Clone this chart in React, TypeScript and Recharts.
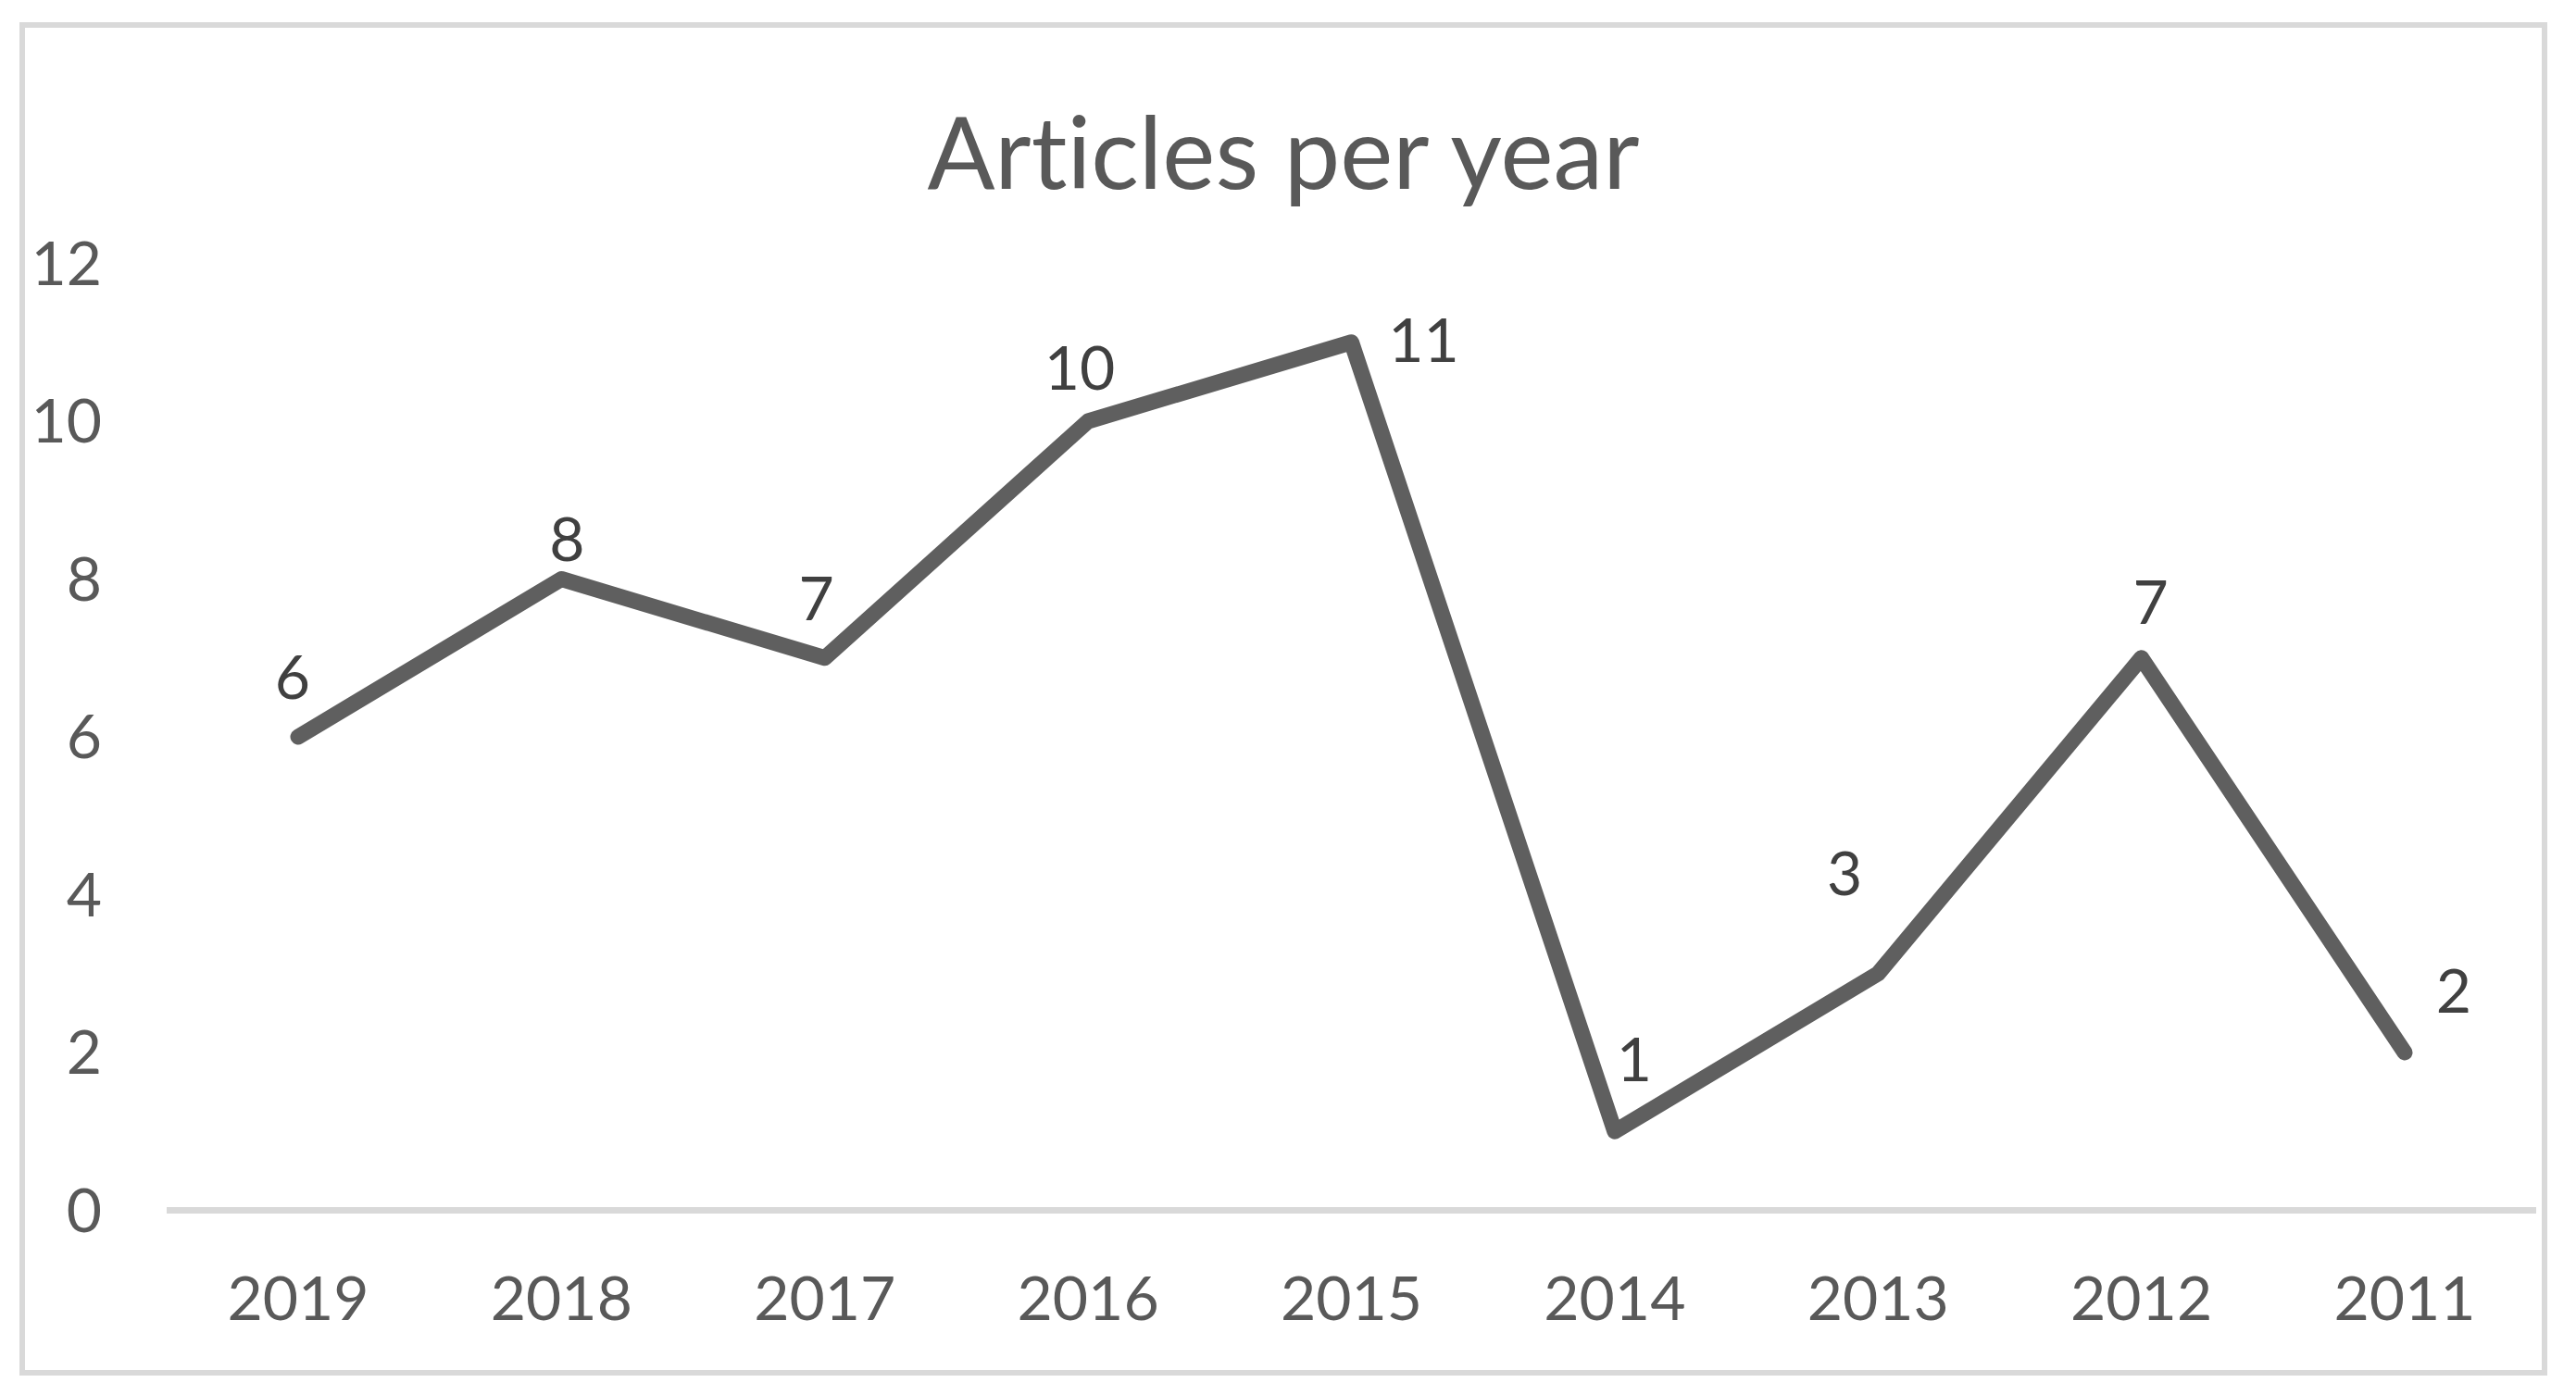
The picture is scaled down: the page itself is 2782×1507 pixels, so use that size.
import React from 'react';
import { LineChart, Line, XAxis, YAxis } from 'recharts';

const years = ['2019', '2018', '2017', '2016', '2015', '2014', '2013', '2012', '2011'];
const articles = [6, 8, 7, 10, 11, 1, 3, 7, 2];
const yTicks = [0, 2, 4, 6, 8, 10, 12];
const chartTitle = 'Articles per year';

// label placement offsets (style only), relative to each point
const labelDx = [-6, 6, -9, -9, 78, 21, -36, 10, 53];
const labelDy = [-65, -43, -64, -58, -2, -78, -108, -60, -67];

const data = years.map((y, i) => ({ year: y, count: articles[i] }));

const FONT = 'Lato, "Open Sans", sans-serif';
const TICK_FS = 66;

const renderLabel = (props: any) => {
  const { x, y, index, value } = props;
  const cx = x + labelDx[index];
  const cy = y + labelDy[index];
  return (
    <text
      key={`lbl-${index}`}
      x={cx}
      y={cy + 0.358 * TICK_FS}
      textAnchor="middle"
      fill="#404040"
      fontSize={TICK_FS}
      fontFamily={FONT}
    >
      {value}
    </text>
  );
};

export default function App() {
  return (
    <div style={{ position: 'absolute', left: 0, top: 0, width: 2782, height: 1507, background: '#ffffff' }}>
      <div
        style={{
          position: 'absolute',
          left: 21,
          top: 24,
          width: 2730,
          height: 1462,
          border: '6px solid #d9d9d9',
          boxSizing: 'border-box',
        }}
      />
      <svg style={{ position: 'absolute', left: 0, top: 0 }} width={2782} height={260}>
        <text
          x={1386}
          y={204}
          textAnchor="middle"
          fill="#595959"
          fontSize={108}
          fontFamily={FONT}
          style={{ fontVariantLigatures: 'none', fontFeatureSettings: '"liga" 0, "dlig" 0' }}
        >
          {chartTitle}
        </text>
      </svg>
      <div style={{ position: 'absolute', left: 0, top: 0 }}>
        <LineChart width={2782} height={1507} data={data} margin={{ top: 284.5, right: 43, left: 0, bottom: 49.5 }}>
          <XAxis
            dataKey="year"
            padding={{ left: 142, right: 142 }}
            tickLine={false}
            tickSize={0}
            tickMargin={72}
            height={150}
            axisLine={{ stroke: '#d9d9d9', strokeWidth: 7 }}
            tick={{ fill: '#595959', fontSize: TICK_FS, fontFamily: FONT }}
            interval={0}
          />
          <YAxis
            domain={[0, 12]}
            ticks={yTicks}
            width={180}
            axisLine={false}
            tickLine={false}
            tickSize={0}
            tickMargin={70}
            tick={{ fill: '#595959', fontSize: TICK_FS, fontFamily: FONT }}
          />
          <Line
            dataKey="count"
            type="linear"
            stroke="#5f5f5f"
            strokeWidth={17}
            strokeLinecap="round"
            strokeLinejoin="round"
            dot={false}
            activeDot={false}
            isAnimationActive={false}
            label={renderLabel}
          />
        </LineChart>
      </div>
    </div>
  );
}
